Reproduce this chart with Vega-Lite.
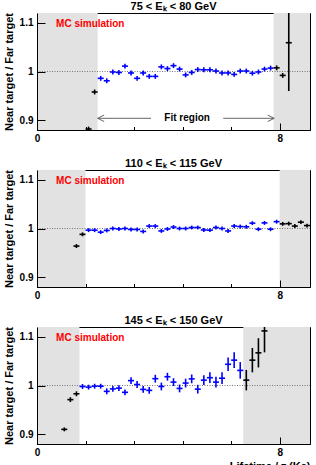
{
"$schema":"https://vega.github.io/schema/vega-lite/v6.json",
"autosize":{"type":"pad"},
"padding":{"left":2,"top":0,"right":4,"bottom":0},
"background":"white",
"bounds":"flush",
"spacing":40,
"config":{
 "font":"Liberation Sans",
 "view":{"stroke":"black","strokeWidth":1},
 "axis":{"labelFont":"Liberation Sans","labelFontWeight":"bold","labelFontSize":10,"labelColor":"black","titleFont":"Liberation Sans","titleFontWeight":"bold","titleFontSize":11,"titleColor":"black","domainColor":"black","tickColor":"black","grid":false,"labelFlush":false,"labelOverlap":false,"zindex":1},
 "title":{"font":"Liberation Sans","fontSize":11,"fontWeight":"bold","color":"black","offset":1,"anchor":"middle"}
},
"datasets":{"pts":[
{"p":1,"x":1.7,"y":0.882,"e":0.005,"c":"out"},
{"p":1,"x":1.9,"y":0.958,"e":0.005,"c":"out"},
{"p":1,"x":2.1,"y":0.986,"e":0.005,"c":"in"},
{"p":1,"x":2.3,"y":0.981,"e":0.005,"c":"in"},
{"p":1,"x":2.5,"y":0.999,"e":0.005,"c":"in"},
{"p":1,"x":2.7,"y":0.998,"e":0.005,"c":"in"},
{"p":1,"x":2.9,"y":1.011,"e":0.005,"c":"in"},
{"p":1,"x":3.1,"y":0.997,"e":0.005,"c":"in"},
{"p":1,"x":3.3,"y":0.986,"e":0.005,"c":"in"},
{"p":1,"x":3.5,"y":0.997,"e":0.005,"c":"in"},
{"p":1,"x":3.7,"y":0.990,"e":0.005,"c":"in"},
{"p":1,"x":3.9,"y":0.990,"e":0.005,"c":"in"},
{"p":1,"x":4.1,"y":1.0095,"e":0.005,"c":"in"},
{"p":1,"x":4.3,"y":1.006,"e":0.005,"c":"in"},
{"p":1,"x":4.5,"y":1.012,"e":0.005,"c":"in"},
{"p":1,"x":4.7,"y":1.005,"e":0.005,"c":"in"},
{"p":1,"x":4.9,"y":0.993,"e":0.005,"c":"in"},
{"p":1,"x":5.1,"y":0.998,"e":0.005,"c":"in"},
{"p":1,"x":5.3,"y":1.004,"e":0.005,"c":"in"},
{"p":1,"x":5.5,"y":1.0035,"e":0.005,"c":"in"},
{"p":1,"x":5.7,"y":1.0035,"e":0.005,"c":"in"},
{"p":1,"x":5.9,"y":1.001,"e":0.005,"c":"in"},
{"p":1,"x":6.1,"y":0.997,"e":0.005,"c":"in"},
{"p":1,"x":6.3,"y":0.997,"e":0.005,"c":"in"},
{"p":1,"x":6.5,"y":0.994,"e":0.005,"c":"in"},
{"p":1,"x":6.7,"y":1.001,"e":0.005,"c":"in"},
{"p":1,"x":6.9,"y":1.001,"e":0.005,"c":"in"},
{"p":1,"x":7.1,"y":0.9965,"e":0.005,"c":"in"},
{"p":1,"x":7.3,"y":0.999,"e":0.005,"c":"in"},
{"p":1,"x":7.5,"y":1.005,"e":0.005,"c":"in"},
{"p":1,"x":7.7,"y":1.007,"e":0.005,"c":"in"},
{"p":1,"x":7.9,"y":1.0075,"e":0.005,"c":"out"},
{"p":1,"x":8.1,"y":0.992,"e":0.005,"c":"out"},
{"p":1,"x":8.3,"y":1.059,"e":0.099,"c":"out"},
{"p":2,"x":1.3,"y":0.964,"e":0.004,"c":"out"},
{"p":2,"x":1.5,"y":0.988,"e":0.004,"c":"out"},
{"p":2,"x":1.7,"y":0.9966,"e":0.004,"c":"in"},
{"p":2,"x":1.9,"y":0.9966,"e":0.004,"c":"in"},
{"p":2,"x":2.1,"y":0.9925,"e":0.004,"c":"in"},
{"p":2,"x":2.3,"y":0.996,"e":0.004,"c":"in"},
{"p":2,"x":2.5,"y":1.0,"e":0.004,"c":"in"},
{"p":2,"x":2.7,"y":0.999,"e":0.004,"c":"in"},
{"p":2,"x":2.9,"y":1.0,"e":0.004,"c":"in"},
{"p":2,"x":3.1,"y":0.998,"e":0.004,"c":"in"},
{"p":2,"x":3.3,"y":0.998,"e":0.004,"c":"in"},
{"p":2,"x":3.5,"y":0.994,"e":0.004,"c":"in"},
{"p":2,"x":3.7,"y":1.005,"e":0.004,"c":"in"},
{"p":2,"x":3.9,"y":1.005,"e":0.004,"c":"in"},
{"p":2,"x":4.1,"y":0.995,"e":0.004,"c":"in"},
{"p":2,"x":4.3,"y":0.999,"e":0.004,"c":"in"},
{"p":2,"x":4.5,"y":1.003,"e":0.004,"c":"in"},
{"p":2,"x":4.7,"y":1.0,"e":0.004,"c":"in"},
{"p":2,"x":4.9,"y":1.0,"e":0.004,"c":"in"},
{"p":2,"x":5.1,"y":1.002,"e":0.004,"c":"in"},
{"p":2,"x":5.3,"y":1.002,"e":0.004,"c":"in"},
{"p":2,"x":5.5,"y":0.997,"e":0.004,"c":"in"},
{"p":2,"x":5.7,"y":0.9966,"e":0.004,"c":"in"},
{"p":2,"x":5.9,"y":1.002,"e":0.004,"c":"in"},
{"p":2,"x":6.1,"y":1.0,"e":0.004,"c":"in"},
{"p":2,"x":6.3,"y":0.995,"e":0.004,"c":"in"},
{"p":2,"x":6.5,"y":1.005,"e":0.004,"c":"in"},
{"p":2,"x":6.7,"y":1.004,"e":0.004,"c":"in"},
{"p":2,"x":6.9,"y":1.0035,"e":0.004,"c":"in"},
{"p":2,"x":7.1,"y":1.011,"e":0.004,"c":"in"},
{"p":2,"x":7.3,"y":0.9985,"e":0.004,"c":"in"},
{"p":2,"x":7.5,"y":1.0115,"e":0.004,"c":"in"},
{"p":2,"x":7.7,"y":0.9985,"e":0.004,"c":"in"},
{"p":2,"x":7.9,"y":1.014,"e":0.004,"c":"in"},
{"p":2,"x":8.1,"y":1.0095,"e":0.004,"c":"out"},
{"p":2,"x":8.3,"y":1.010,"e":0.004,"c":"out"},
{"p":2,"x":8.5,"y":1.005,"e":0.004,"c":"out"},
{"p":2,"x":8.7,"y":1.013,"e":0.004,"c":"out"},
{"p":2,"x":8.9,"y":1.006,"e":0.004,"c":"out"},
{"p":3,"x":0.9,"y":0.910,"e":0.004,"c":"out"},
{"p":3,"x":1.1,"y":0.971,"e":0.005,"c":"out"},
{"p":3,"x":1.3,"y":0.983,"e":0.005,"c":"out"},
{"p":3,"x":1.5,"y":0.998,"e":0.005,"c":"in"},
{"p":3,"x":1.7,"y":0.9966,"e":0.005,"c":"in"},
{"p":3,"x":1.9,"y":0.9986,"e":0.005,"c":"in"},
{"p":3,"x":2.1,"y":0.9986,"e":0.005,"c":"in"},
{"p":3,"x":2.3,"y":0.988,"e":0.006,"c":"in"},
{"p":3,"x":2.5,"y":0.993,"e":0.006,"c":"in"},
{"p":3,"x":2.7,"y":0.9946,"e":0.006,"c":"in"},
{"p":3,"x":2.9,"y":0.986,"e":0.006,"c":"in"},
{"p":3,"x":3.1,"y":1.010,"e":0.007,"c":"in"},
{"p":3,"x":3.3,"y":1.002,"e":0.007,"c":"in"},
{"p":3,"x":3.5,"y":0.992,"e":0.007,"c":"in"},
{"p":3,"x":3.7,"y":0.990,"e":0.007,"c":"in"},
{"p":3,"x":3.9,"y":1.014,"e":0.008,"c":"in"},
{"p":3,"x":4.1,"y":0.998,"e":0.008,"c":"in"},
{"p":3,"x":4.3,"y":1.018,"e":0.008,"c":"in"},
{"p":3,"x":4.5,"y":1.007,"e":0.008,"c":"in"},
{"p":3,"x":4.7,"y":0.994,"e":0.008,"c":"in"},
{"p":3,"x":4.9,"y":1.005,"e":0.009,"c":"in"},
{"p":3,"x":5.1,"y":1.0136,"e":0.009,"c":"in"},
{"p":3,"x":5.3,"y":0.9925,"e":0.009,"c":"in"},
{"p":3,"x":5.5,"y":1.011,"e":0.01,"c":"in"},
{"p":3,"x":5.7,"y":1.016,"e":0.011,"c":"in"},
{"p":3,"x":5.9,"y":1.007,"e":0.011,"c":"in"},
{"p":3,"x":6.1,"y":1.015,"e":0.012,"c":"in"},
{"p":3,"x":6.3,"y":1.0435,"e":0.014,"c":"in"},
{"p":3,"x":6.5,"y":1.052,"e":0.016,"c":"in"},
{"p":3,"x":6.7,"y":1.031,"e":0.017,"c":"in"},
{"p":3,"x":6.9,"y":1.011,"e":0.021,"c":"out"},
{"p":3,"x":7.1,"y":1.052,"e":0.025,"c":"out"},
{"p":3,"x":7.3,"y":1.067,"e":0.030,"c":"out"},
{"p":3,"x":7.5,"y":1.112,"e":0.044,"c":"out"}
]},
"vconcat":[
{
 "width":273,"height":117,
 "title":{"text":"75 < Eₖ < 80 GeV"},
 "layer":[
  {"data":{"values":[{"a":0,"b":2},{"a":7.8,"b":9}]},"mark":{"type":"rect","color":"#e2e2e2"},
   "encoding":{"x":{"field":"a","type":"quantitative","scale":{"domain":[0,9],"nice":false},
     "axis":{"title":null,"labelOverlap":false,"zindex":1,"values":[0,0.2,0.4,0.6,0.8,1,1.2,1.4,1.6,1.8,2,2.2,2.4,2.6,2.8,3,3.2,3.4,3.6,3.8,4,4.2,4.4,4.6,4.8,5,5.2,5.4,5.6,5.8,6,6.2,6.4,6.6,6.8,7,7.2,7.4,7.6,7.8,8,8.2,8.4,8.6,8.8,9],
       "labelExpr":"abs(datum.value-round(datum.value))<0.01 ? format(datum.value,'d') : ''",
       "tickSize":{"condition":{"test":"abs(datum.value-round(datum.value))<0.01","value":-7},"value":-3.5},
       "labelPadding":10}},
    "x2":{"field":"b"},
    "y":{"datum":0.88,"type":"quantitative","scale":{"domain":[0.88,1.12],"nice":false,"zero":false},
     "axis":{"title":"Near target / Far target","labelOverlap":false,"zindex":1,"values":[0.9,0.925,0.95,0.975,1,1.025,1.05,1.075,1.1],
       "labelExpr":"abs(datum.value*20-round(datum.value*20))<0.01 ? format(datum.value,'~g') : ''",
       "tickSize":{"condition":{"test":"abs(datum.value*20-round(datum.value*20))<0.01","value":-8},"value":-4},
       "labelPadding":12,"titlePadding":5}},
    "y2":{"datum":1.12}}},
  {"data":{"values":[{}]},"mark":{"type":"rule","color":"#777777","strokeDash":[1,1.5],"strokeWidth":1},
   "encoding":{"x":{"datum":0,"type":"quantitative"},"x2":{"datum":9},"y":{"datum":1,"type":"quantitative"}}},
  {"data":{"values":[{}]},"mark":{"type":"rule","color":"#666666","strokeWidth":1},"encoding":{"x":{"datum":2.0,"type":"quantitative"},"x2":{"datum":3.76},"y":{"datum":0.904,"type":"quantitative"}}},
  {"data":{"values":[{}]},"mark":{"type":"rule","color":"#666666","strokeWidth":1},"encoding":{"x":{"datum":6.14,"type":"quantitative"},"x2":{"datum":7.82},"y":{"datum":0.904,"type":"quantitative"}}},
  {"data":{"values":[{}]},"mark":{"type":"point","shape":"M2,-1L0,0L2,1","size":42,"filled":false,"color":"#666666","strokeWidth":1,"opacity":1},"encoding":{"x":{"datum":2.0,"type":"quantitative"},"y":{"datum":0.904,"type":"quantitative"}}},
  {"data":{"values":[{}]},"mark":{"type":"point","shape":"M-2,-1L0,0L-2,1","size":42,"filled":false,"color":"#666666","strokeWidth":1,"opacity":1},"encoding":{"x":{"datum":7.82,"type":"quantitative"},"y":{"datum":0.904,"type":"quantitative"}}},
  {"data":{"values":[{}]},"mark":{"type":"text","text":"Fit region","fontSize":10,"fontWeight":"bold","color":"black","align":"center","baseline":"middle"},"encoding":{"x":{"datum":4.95,"type":"quantitative"},"y":{"datum":0.904,"type":"quantitative"}}},
  {"data":{"values":[{}]},"mark":{"type":"text","text":"MC simulation","color":"#ff0000","fontWeight":"bold","fontSize":10,"align":"left","baseline":"middle"},"encoding":{"x":{"datum":0.63,"type":"quantitative"},"y":{"datum":1.098,"type":"quantitative"}}},
  {"data":{"name":"pts"},"transform":[{"filter":"datum.p==1"}],"mark":{"type":"errorbar","thickness":1.6,"clip":true},
   "encoding":{"x":{"field":"x","type":"quantitative","title":null},"y":{"field":"y","type":"quantitative","title":"Near target / Far target"},"yError":{"field":"e"},
     "color":{"field":"c","type":"nominal","scale":{"domain":["in","out"],"range":["#0000ff","#000000"]},"legend":null}}},
  {"data":{"name":"pts"},"transform":[{"filter":"datum.p==1"}],"mark":{"type":"tick","orient":"horizontal","size":6,"thickness":1.6,"opacity":1,"clip":true},
   "encoding":{"x":{"field":"x","type":"quantitative","title":null},"y":{"field":"y","type":"quantitative","title":"Near target / Far target"},
     "color":{"field":"c","type":"nominal","scale":{"domain":["in","out"],"range":["#0000ff","#000000"]},"legend":null}}}
 ]
},
{
 "width":273,"height":117,
 "title":{"text":"110 < Eₖ < 115 GeV"},
 "layer":[
  {"data":{"values":[{"a":0,"b":1.6},{"a":8,"b":9}]},"mark":{"type":"rect","color":"#e2e2e2"},
   "encoding":{"x":{"field":"a","type":"quantitative","scale":{"domain":[0,9],"nice":false},
     "axis":{"title":null,"labelOverlap":false,"zindex":1,"values":[0,0.2,0.4,0.6,0.8,1,1.2,1.4,1.6,1.8,2,2.2,2.4,2.6,2.8,3,3.2,3.4,3.6,3.8,4,4.2,4.4,4.6,4.8,5,5.2,5.4,5.6,5.8,6,6.2,6.4,6.6,6.8,7,7.2,7.4,7.6,7.8,8,8.2,8.4,8.6,8.8,9],
       "labelExpr":"abs(datum.value-round(datum.value))<0.01 ? format(datum.value,'d') : ''",
       "tickSize":{"condition":{"test":"abs(datum.value-round(datum.value))<0.01","value":-7},"value":-3.5},
       "labelPadding":10}},
    "x2":{"field":"b"},
    "y":{"datum":0.88,"type":"quantitative","scale":{"domain":[0.88,1.12],"nice":false,"zero":false},
     "axis":{"title":"Near target / Far target","labelOverlap":false,"zindex":1,"values":[0.9,0.925,0.95,0.975,1,1.025,1.05,1.075,1.1],
       "labelExpr":"abs(datum.value*20-round(datum.value*20))<0.01 ? format(datum.value,'~g') : ''",
       "tickSize":{"condition":{"test":"abs(datum.value*20-round(datum.value*20))<0.01","value":-8},"value":-4},
       "labelPadding":12,"titlePadding":5}},
    "y2":{"datum":1.12}}},
  {"data":{"values":[{}]},"mark":{"type":"rule","color":"#777777","strokeDash":[1,1.5],"strokeWidth":1},
   "encoding":{"x":{"datum":0,"type":"quantitative"},"x2":{"datum":9},"y":{"datum":1,"type":"quantitative"}}},
  {"data":{"values":[{}]},"mark":{"type":"text","text":"MC simulation","color":"#ff0000","fontWeight":"bold","fontSize":10,"align":"left","baseline":"middle"},"encoding":{"x":{"datum":0.63,"type":"quantitative"},"y":{"datum":1.098,"type":"quantitative"}}},
  {"data":{"name":"pts"},"transform":[{"filter":"datum.p==2"}],"mark":{"type":"errorbar","thickness":1.6,"clip":true},
   "encoding":{"x":{"field":"x","type":"quantitative","title":null},"y":{"field":"y","type":"quantitative","title":"Near target / Far target"},"yError":{"field":"e"},
     "color":{"field":"c","type":"nominal","scale":{"domain":["in","out"],"range":["#0000ff","#000000"]},"legend":null}}},
  {"data":{"name":"pts"},"transform":[{"filter":"datum.p==2"}],"mark":{"type":"tick","orient":"horizontal","size":6,"thickness":1.6,"opacity":1,"clip":true},
   "encoding":{"x":{"field":"x","type":"quantitative","title":null},"y":{"field":"y","type":"quantitative","title":"Near target / Far target"},
     "color":{"field":"c","type":"nominal","scale":{"domain":["in","out"],"range":["#0000ff","#000000"]},"legend":null}}}
 ]
},
{
 "width":273,"height":117,
 "title":{"text":"145 < Eₖ < 150 GeV"},
 "layer":[
  {"data":{"values":[{"a":0,"b":1.4},{"a":6.8,"b":9}]},"mark":{"type":"rect","color":"#e2e2e2"},
   "encoding":{"x":{"field":"a","type":"quantitative","scale":{"domain":[0,9],"nice":false},
     "axis":{"title":"Lifetime / τ (Ks)","titleAnchor":"end","titlePadding":0,"labelOverlap":false,"zindex":1,"values":[0,0.2,0.4,0.6,0.8,1,1.2,1.4,1.6,1.8,2,2.2,2.4,2.6,2.8,3,3.2,3.4,3.6,3.8,4,4.2,4.4,4.6,4.8,5,5.2,5.4,5.6,5.8,6,6.2,6.4,6.6,6.8,7,7.2,7.4,7.6,7.8,8,8.2,8.4,8.6,8.8,9],
       "labelExpr":"abs(datum.value-round(datum.value))<0.01 ? format(datum.value,'d') : ''",
       "tickSize":{"condition":{"test":"abs(datum.value-round(datum.value))<0.01","value":-7},"value":-3.5},
       "labelPadding":10}},
    "x2":{"field":"b"},
    "y":{"datum":0.88,"type":"quantitative","scale":{"domain":[0.88,1.12],"nice":false,"zero":false},
     "axis":{"title":"Near target / Far target","labelOverlap":false,"zindex":1,"values":[0.9,0.925,0.95,0.975,1,1.025,1.05,1.075,1.1],
       "labelExpr":"abs(datum.value*20-round(datum.value*20))<0.01 ? format(datum.value,'~g') : ''",
       "tickSize":{"condition":{"test":"abs(datum.value*20-round(datum.value*20))<0.01","value":-8},"value":-4},
       "labelPadding":12,"titlePadding":5}},
    "y2":{"datum":1.12}}},
  {"data":{"values":[{}]},"mark":{"type":"rule","color":"#777777","strokeDash":[1,1.5],"strokeWidth":1},
   "encoding":{"x":{"datum":0,"type":"quantitative"},"x2":{"datum":9},"y":{"datum":1,"type":"quantitative"}}},
  {"data":{"values":[{}]},"mark":{"type":"text","text":"MC simulation","color":"#ff0000","fontWeight":"bold","fontSize":10,"align":"left","baseline":"middle"},"encoding":{"x":{"datum":0.63,"type":"quantitative"},"y":{"datum":1.098,"type":"quantitative"}}},
  {"data":{"name":"pts"},"transform":[{"filter":"datum.p==3"}],"mark":{"type":"errorbar","thickness":1.6,"clip":true},
   "encoding":{"x":{"field":"x","type":"quantitative","title":"Lifetime / τ (Ks)"},"y":{"field":"y","type":"quantitative","title":"Near target / Far target"},"yError":{"field":"e"},
     "color":{"field":"c","type":"nominal","scale":{"domain":["in","out"],"range":["#0000ff","#000000"]},"legend":null}}},
  {"data":{"name":"pts"},"transform":[{"filter":"datum.p==3"}],"mark":{"type":"tick","orient":"horizontal","size":6,"thickness":1.6,"opacity":1,"clip":true},
   "encoding":{"x":{"field":"x","type":"quantitative","title":"Lifetime / τ (Ks)"},"y":{"field":"y","type":"quantitative","title":"Near target / Far target"},
     "color":{"field":"c","type":"nominal","scale":{"domain":["in","out"],"range":["#0000ff","#000000"]},"legend":null}}}
 ]
}
]
}
